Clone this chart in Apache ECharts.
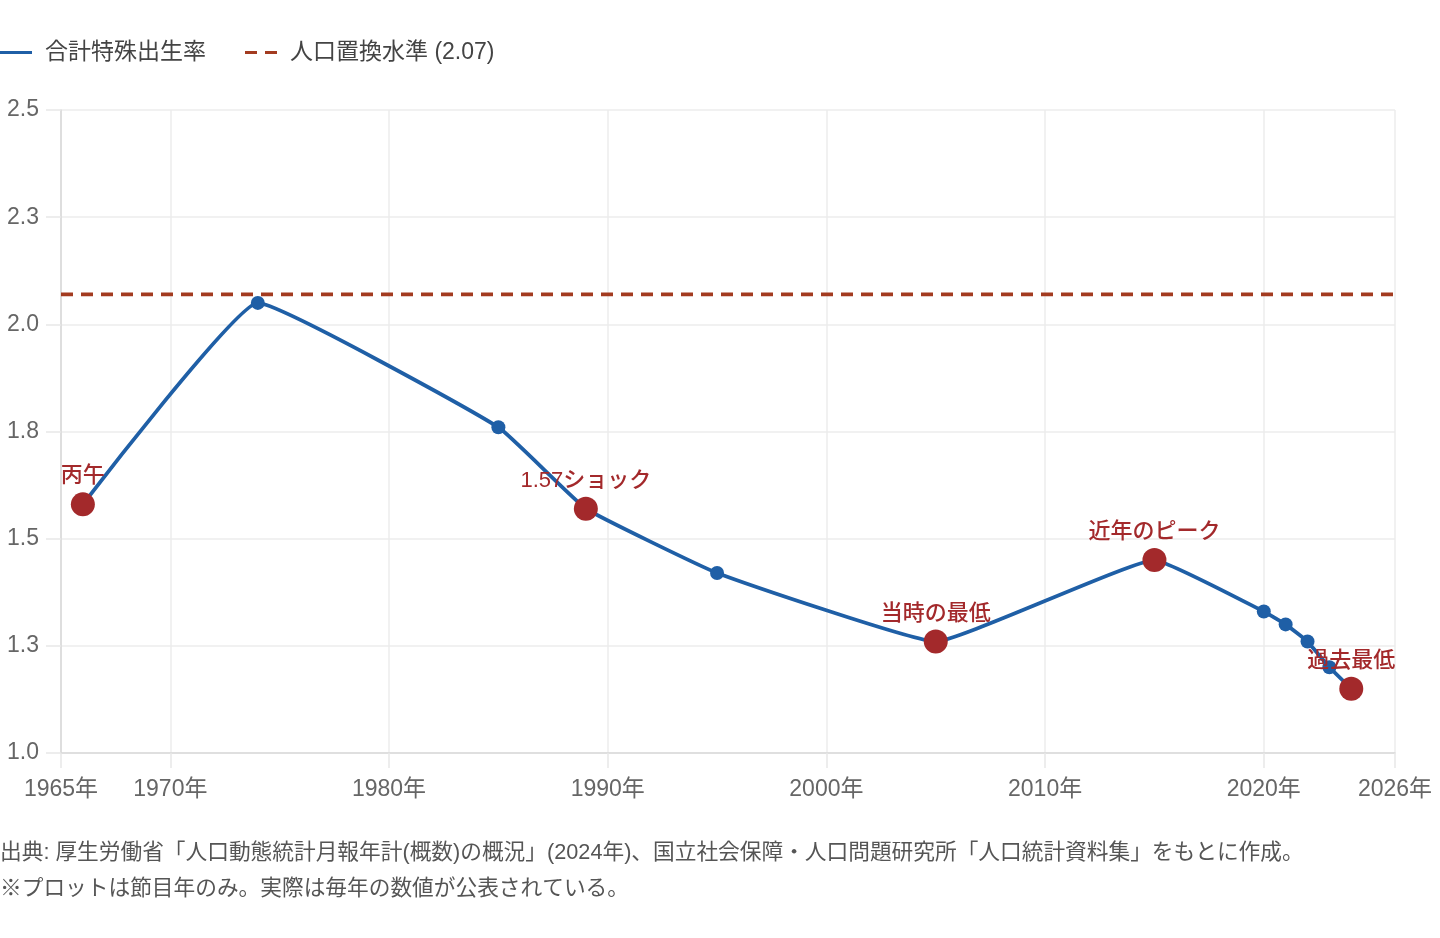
<!DOCTYPE html>
<html>
<head>
<meta charset="utf-8">
<script src="https://cdn.jsdelivr.net/npm/echarts@6/dist/echarts.min.js"></script>
<style>
  html, body { margin: 0; padding: 0; background: #fff; }
  #main { width: 1440px; height: 938px; }
</style>
</head>
<body>
<div id="main"></div>
<script>
// 節目年のみ
const years = [1966, 1974, 1985, 1989, 1995, 2005, 2015, 2020, 2021, 2022, 2023, 2024]
const tfr = [1.58, 2.05, 1.76, 1.57, 1.42, 1.26, 1.45, 1.33, 1.30, 1.26, 1.20, 1.15]
const noteYears = [1966, 1989, 2005, 2015, 2024]
const noteLabels = ['丙午', '1.57ショック', '当時の最低', '近年のピーク', '過去最低']
const replacementLevel = 2.07
const xTicks = [1965, 1970, 1980, 1990, 2000, 2010, 2020, 2026]
const notes = [
  '出典: 厚生労働省「人口動態統計月報年計(概数)の概況」(2024年)、国立社会保障・人口問題研究所「人口統計資料集」をもとに作成。',
  '※プロットは節目年のみ。実際は毎年の数値が公表されている。'
]

const FONT = "'Liberation Sans', 'Noto Sans CJK JP', sans-serif"
const BLUE = '#1f5fa6'
const RED = '#a3292b'

const lineData = years.map((y, i) => {
  const k = noteYears.indexOf(y)
  if (k < 0) return [y, tfr[i]]
  return {
    value: [y, tfr[i]],
    symbolSize: 24,
    itemStyle: { color: RED },
    label: {
      show: true,
      position: 'top',
      distance: 5,
      formatter: noteLabels[k],
      color: RED,
      fontSize: 22,
      fontWeight: 500,
      fontFamily: FONT
    }
  }
})

const option = {
  animation: false,
  textStyle: { fontFamily: FONT },
  legend: {
    left: 0,
    top: 41,
    padding: 0,
    itemWidth: 32,
    itemHeight: 3,
    itemGap: 39,
    textStyle: { color: '#444', fontSize: 23, fontFamily: FONT, padding: [0, 0, 0, 8] },
    data: [
      { name: '合計特殊出生率', icon: 'path://M0,0H32V3H0Z' },
      { name: '人口置換水準 (2.07)', icon: 'path://M0,0H12V3H0Z M20,0H32V3H20Z' }
    ]
  },
  grid: {
    left: 61,
    right: 45,
    top: 110,
    bottom: 185,
    outerBoundsMode: 'none'
  },
  xAxis: {
    type: 'value',
    min: 1965,
    max: 2026,
    axisLine: { lineStyle: { color: '#d9d9d9', width: 1.5 } },
    axisTick: {
      customValues: xTicks,
      length: 15,
      lineStyle: { color: '#e8e8e8', width: 1.5 }
    },
    axisLabel: {
      customValues: xTicks,
      formatter: v => v + '年',
      color: '#666',
      fontSize: 23,
      margin: 25,
      fontFamily: FONT
    },
    splitLine: { show: true, lineStyle: { color: '#ececec', width: 1.5 } }
  },
  yAxis: {
    type: 'value',
    min: 1,
    max: 2.5,
    interval: 0.25,
    axisLine: { show: true, lineStyle: { color: '#d9d9d9', width: 1.5 } },
    axisTick: { show: true, length: 15, lineStyle: { color: '#e8e8e8', width: 1.5 } },
    axisLabel: {
      formatter: v => v.toFixed(1),
      color: '#666',
      fontSize: 23,
      margin: 22,
      fontFamily: FONT
    },
    splitLine: { show: true, lineStyle: { color: '#ececec', width: 1.5 } }
  },
  series: [
    {
      name: '合計特殊出生率',
      type: 'line',
      smooth: 0.1,
      symbol: 'circle',
      symbolSize: 14,
      color: BLUE,
      lineStyle: { width: 3.8, color: BLUE },
      itemStyle: { color: BLUE },
      z: 3,
      data: lineData
    },
    {
      name: '人口置換水準 (2.07)',
      type: 'line',
      symbol: 'none',
      color: '#a33b20',
      lineStyle: { width: 3.8, type: [12, 8], color: '#a33b20' },
      z: 2,
      data: [[1965, replacementLevel], [2026, replacementLevel]]
    }
  ],
  graphic: notes.map((t, i) => ({
    type: 'text',
    left: 0,
    top: 842 + i * 36,
    style: { text: t, fontSize: 21.7, fill: '#555', fontFamily: FONT }
  }))
}

const myChart = echarts.init(document.getElementById('main'))
myChart.setOption(option, true)
window.addEventListener('resize', () => {
  myChart.resize()
})
</script>
</body>
</html>
